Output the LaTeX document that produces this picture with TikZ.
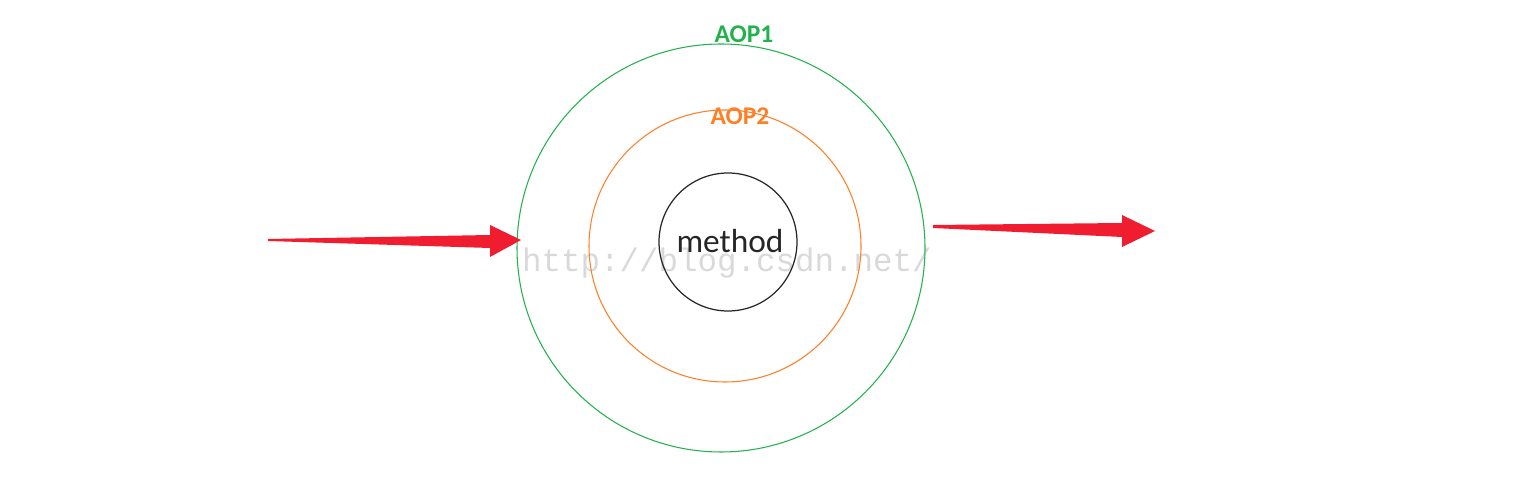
\documentclass[tikz,border=0pt]{standalone}
\usepackage{fontspec}
\usetikzlibrary{calc}
\setmainfont{Carlito}
\newfontfamily\markfont{Liberation Mono}
\definecolor{aopgreen}{RGB}{34,177,76}
\definecolor{aoporange}{RGB}{255,127,39}
\definecolor{arrowred}{RGB}{240,28,48}
\begin{document}
\begin{tikzpicture}[x=0.02cm,y=-0.02cm,every node/.style={font=\fontsize{15}{18}\selectfont}]
  \useasboundingbox (0,0) rectangle (1524,502);
  \node [text=black!15,font=\markfont\fontsize{18.5}{20}\selectfont] (mark) at (727,263) {http://blog.csdn.net/};
  \node [circle,draw=aopgreen,line width=0.6pt,minimum size=408*0.02cm,inner sep=0pt] (aop1) at (721,248) {};
  \node [circle,draw=aoporange,line width=0.6pt,minimum size=272*0.02cm,inner sep=0pt] (aop2) at (725,246) {};
  \node [circle,draw=black!85,line width=0.7pt,minimum size=138*0.02cm,inner sep=0pt] (method) at (728,242) {};
  \node [text=black!85,font=\fontsize{19}{22}\selectfont] at (730,241) {method};
  \node [text=aopgreen,font=\bfseries\fontsize{14.5}{17}\selectfont] (aop1label) at (744,34) {AOP1};
  \node [text=aoporange,font=\bfseries\fontsize{14.5}{17}\selectfont] (aop2label) at (740,116) {AOP2};
  % incoming arrow
  \coordinate (intail) at (268,240);
  \coordinate (intip) at (521,240);
  \fill [arrowred] (intail) ++(0,-1) -- (490,235) -- (490,225) -- (intip)
    -- (490,257) -- (490,248) -- ($(intail)+(0,1)$) -- cycle;
  % outgoing arrow
  \coordinate (outtail) at (933,226.5);
  \coordinate (outtip) at (1155,231);
  \fill [arrowred] (outtail) ++(0,-1.5) -- (1122,223) -- (1122,215) -- (outtip)
    -- (1122,247) -- (1122,237) -- ($(outtail)+(0,1.5)$) -- cycle;
\end{tikzpicture}
\end{document}
